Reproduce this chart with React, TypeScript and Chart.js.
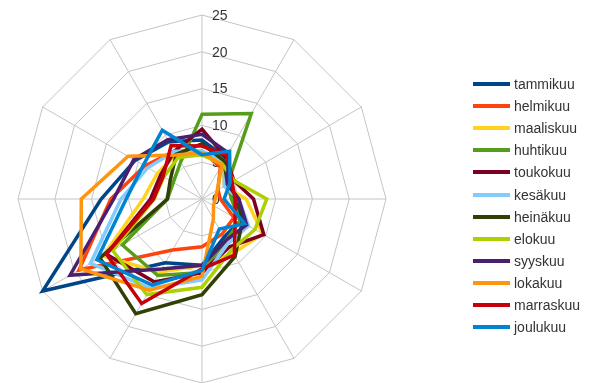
import React, { useEffect, useRef } from "react";
import { Chart, registerables } from "chart.js";

Chart.register(...registerables);

const directions = ["0°", "30°", "60°", "90°", "120°", "150°", "180°", "210°", "240°", "270°", "300°", "330°"];
const months = ["tammikuu", "helmikuu", "maaliskuu", "huhtikuu", "toukokuu", "kesäkuu", "heinäkuu", "elokuu", "syyskuu", "lokakuu", "marraskuu", "joulukuu"];
const colors = ["#004586", "#ff420e", "#ffd320", "#579d1c", "#7e0021", "#83caff", "#314004", "#aecf00", "#4b1f6f", "#ff950e", "#c5000b", "#0084d1"];

const tammikuu = [8, 6.5, 4, 4.5, 6, 6, 9, 10, 25, 13.7, 10.5, 9];
const helmikuu = [6.5, 5, 2.5, 2.5, 5, 5.5, 6.5, 8, 19.3, 12.4, 9, 7.5];
const maaliskuu = [6, 5.5, 3.5, 6, 9.5, 8.5, 9, 11.5, 15.5, 8, 7, 7];
const huhtikuu = [11.5, 13.4, 4, 4, 6, 6.5, 10, 12, 12.5, 4.7, 4.5, 5.8];
const toukokuu = [9.5, 6.5, 5, 7, 9.7, 7.5, 10, 13, 15, 7, 6.5, 7.5];
const kesakuu = [6.5, 6, 3.5, 5, 7.3, 7, 11, 14, 17.5, 11, 8.5, 7.5];
const heinakuu = [7.5, 6, 4, 5, 6.3, 9, 13, 18, 16, 4.7, 5, 7];
const elokuu = [6, 5.5, 5, 8.8, 8.3, 8, 12, 15, 14, 6.5, 6, 6.5];
const syyskuu = [8.8, 7.2, 4, 5, 7, 6.5, 9, 11, 20.7, 12, 10.7, 9.3];
const lokakuu = [6.3, 5.4, 2.4, 1.8, 1.8, 3.1, 10.5, 14.3, 19, 16.4, 11.6, 6.9];
const marraskuu = [7.2, 6.8, 4.7, 4.5, 5.2, 8.8, 9.5, 16.4, 15, 6.6, 6.1, 8.4];
const joulukuu = [6, 7.5, 4.4, 3, 6.7, 4.7, 9.7, 13.5, 16.5, 10.3, 9.2, 10.8];

const series = [tammikuu, helmikuu, maaliskuu, huhtikuu, toukokuu, kesakuu, heinakuu, elokuu, syyskuu, lokakuu, marraskuu, joulukuu];
const tickLabels = ["0", "5", "10", "15", "20", "25"];

const FONT = '"Liberation Sans", Arial, sans-serif';

const tickLabelPlugin = {
  id: "tickLabelsRight",
  beforeDatasetsDraw(chart: any) {
    const scale = chart.scales.r;
    const ctx = chart.ctx;
    ctx.save();
    ctx.font = `14px ${FONT}`;
    ctx.fillStyle = "#333333";
    ctx.textAlign = "left";
    ctx.textBaseline = "middle";
    tickLabels.forEach((t) => {
      const v = Number(t);
      const d = scale.getDistanceFromCenterForValue(v);
      ctx.fillText(t, scale.xCenter + 10, scale.yCenter - d + 1);
    });
    ctx.restore();
  },
};

export default function App() {
  const ref = useRef<HTMLCanvasElement>(null);
  useEffect(() => {
    if (!ref.current) return;
    const chart = new Chart(ref.current, {
      type: "radar",
      data: {
        labels: directions,
        datasets: months.map((m, i) => ({
          label: m,
          data: series[i],
          borderColor: colors[i],
          backgroundColor: colors[i],
          borderWidth: 3.5,
          fill: false,
          pointRadius: 0,
          pointHoverRadius: 0,
          tension: 0,
          order: months.length - i,
        })),
      },
      options: {
        responsive: false,
        animation: false,
        layout: { padding: { left: 18, right: 203, top: 15, bottom: 0 } },
        plugins: { legend: { display: false }, tooltip: { enabled: false } },
        elements: { line: { borderJoinStyle: "miter" } },
        scales: {
          r: {
            min: 0,
            max: 25,
            ticks: { stepSize: 5, display: false, showLabelBackdrop: false },
            pointLabels: { display: false },
            grid: { color: "#c4c4c4", lineWidth: 1, circular: false },
            angleLines: { color: "#c4c4c4", lineWidth: 1 },
          },
        },
      },
      plugins: [tickLabelPlugin],
    });
    return () => chart.destroy();
  }, []);

  return (
    <div style={{ position: "fixed", left: 0, top: 0, width: 589, height: 383, background: "#fff" }}>
      <canvas ref={ref} width={589} height={383} style={{ position: "absolute", left: 0, top: 0 }} />
      <div style={{ position: "absolute", left: 473, top: 73, fontFamily: FONT, fontSize: 14, color: "#333" }}>
        {months.map((m, i) => (
          <div key={m} style={{ display: "flex", alignItems: "center", height: 22.1 }}>
            <span style={{ display: "inline-block", width: 37, height: 4, background: colors[i], marginRight: 4 }} />
            <span>{m}</span>
          </div>
        ))}
      </div>
    </div>
  );
}
